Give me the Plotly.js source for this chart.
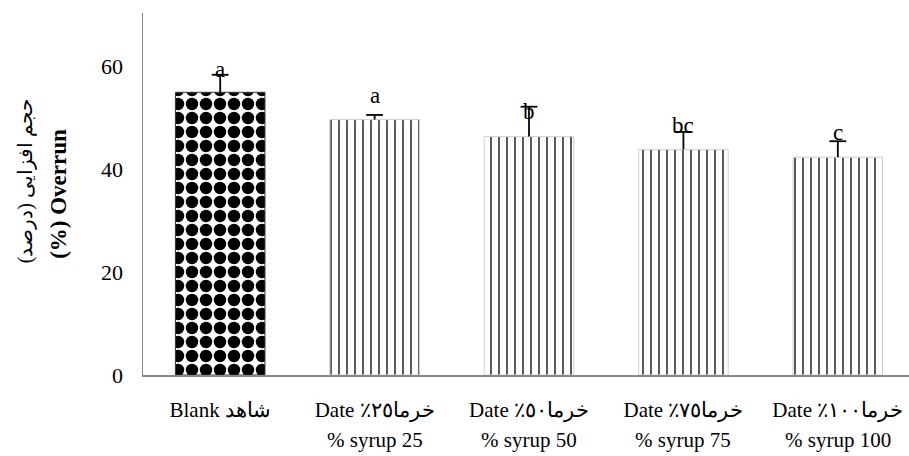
<!DOCTYPE html>
<html>
<head>
<meta charset="utf-8">
<script src="https://cdn.plot.ly/plotly-3.0.1.min.js"></script>
<style>html,body{margin:0;padding:0;background:#fff;}</style>
</head>
<body>
<div id="chart" style="width:909px;height:456px;"></div>
<script>
// ---- data ----
const categoryLine1 = ["Blank شاهد", "Date خرما٢٥٪\u200F", "Date خرما٥٠٪\u200F", "Date خرما٧٥٪\u200F", "Date خرما١٠٠٪\u200F"];
const categoryLine2 = ["", "% syrup 25", "% syrup 50", "% syrup 75", "% syrup 100"];
const overrun = [54.9, 49.6, 46.3, 43.8, 42.3];
const errPlus = [3.4, 0.9, 5.8, 3.4, 3.1];
const letters = ["a", "a", "b", "bc", "c"];
const letterY = [59.3, 54.3, 51.2, 48.5, 47.1];
const yTickVals = [0, 20, 40, 60];
const yTitleFa = "حجم افزایی (درصد)";
const yTitleEn = "\u00a0\u00a0\u00a0<b>(%) Overrun</b>";

const xIdx = overrun.map((_, i) => i);
const errTop = overrun.map((v, i) => v + errPlus[i]);
const serif = "'Liberation Serif', 'Times New Roman', serif";

const bars = {
  type: "bar",
  x: xIdx,
  y: overrun,
  width: 0.58,
  marker: {
    color: "#ffffff",
    line: {color: ["#333333", "#cfcfcf", "#cfcfcf", "#cfcfcf", "#cfcfcf"], width: 1},
    pattern: {
      shape: [".", "|", "|", "|", "|"],
      fgcolor: ["#000000", "#444444", "#444444", "#444444", "#444444"],
      bgcolor: "#ffffff",
      size: [14, 8, 8, 8, 8],
      solidity: [0.62, 0.22, 0.22, 0.22, 0.22],
      fgopacity: [1, 0.5, 0.5, 0.5, 0.5]
    }
  },
  error_y: {
    type: "data",
    symmetric: false,
    array: errPlus,
    arrayminus: overrun.map(() => 0),
    color: "#000000",
    thickness: 1.8,
    width: 0
  },
  hoverinfo: "none"
};

const caps = {
  type: "scatter",
  mode: "markers",
  x: xIdx,
  y: errTop,
  marker: {symbol: "line-ew", size: 12, color: "#000", line: {color: "#000", width: 1.8}},
  hoverinfo: "none"
};

const annotations = [];
letters.forEach((t, i) => {
  annotations.push({
    x: i, y: letterY[i], xref: "x", yref: "y", text: t, showarrow: false,
    font: {family: serif, size: 23, color: "#000"}, xanchor: "center", yanchor: "middle"
  });
});
categoryLine2.forEach((t, i) => {
  if (!t) return;
  annotations.push({
    x: i, y: -0.179, xref: "x", yref: "paper", text: t, showarrow: false,
    font: {family: serif, size: 21, color: "#000"}, xanchor: "center", yanchor: "middle"
  });
});
annotations.push({
  x: -0.154, y: 0.535, xref: "paper", yref: "paper", text: yTitleFa, showarrow: false,
  textangle: -90, font: {family: serif, size: 20, color: "#000"}, xanchor: "center", yanchor: "middle"
});

const layout = {
  width: 909, height: 456,
  margin: {l: 143, r: 0, t: 13, b: 81},
  paper_bgcolor: "#ffffff", plot_bgcolor: "#ffffff",
  showlegend: false,
  xaxis: {
    range: [-0.5, 4.461],
    tickvals: xIdx,
    ticktext: categoryLine1,
    ticks: "",
    showgrid: false, zeroline: false,
    showline: true, linecolor: "#898989", linewidth: 1.5,
    tickfont: {family: serif, size: 21, color: "#000"},
    ticklabelstandoff: 15,
    fixedrange: true
  },
  yaxis: {
    range: [0, 70.3],
    tickvals: yTickVals,
    ticks: "",
    showgrid: false, zeroline: false,
    showline: true, linecolor: "#898989", linewidth: 1.5,
    tickfont: {family: serif, size: 22, color: "#000"},
    ticklabelstandoff: 14,
    automargin: true,
    title: {text: yTitleEn, font: {family: serif, size: 23, color: "#000"}, standoff: 28},
    fixedrange: true
  },
  annotations: annotations
};

Plotly.newPlot("chart", [bars, caps], layout, {displayModeBar: false, staticPlot: true});
</script>
</body>
</html>
